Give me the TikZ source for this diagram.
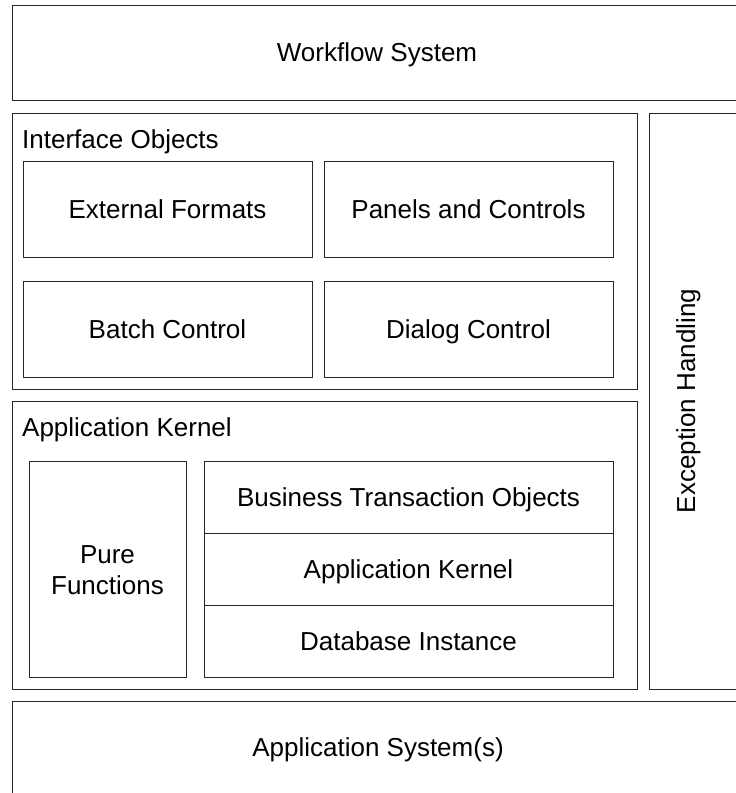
\documentclass[tikz,border=0pt]{standalone}
\usepackage{fontspec}
\setmainfont{Liberation Sans}
\usetikzlibrary{shadows}
\begin{document}
\begin{tikzpicture}[x=1pt,y=-1pt,
  box/.style={draw=black!85, line width=1pt, fill=white, rectangle, anchor=north west, inner sep=0pt, outer sep=0pt,
    drop shadow={shadow xshift=1.2pt, shadow yshift=-1.2pt, fill=black!45, opacity=1}},
  lbl/.style={font=\fontsize{26}{31}\selectfont, text=black, align=center, inner sep=0pt},
  one/.style={lbl, text height=19pt, text depth=1pt},
  ttl/.style={font=\fontsize{26}{31}\selectfont, text=black, anchor=base west, inner sep=0pt}]
\useasboundingbox (0,0) rectangle (736,793);
\clip (0,0) rectangle (736,793);
% outer boxes
\node[box, minimum width=732, minimum height=95] (wf) at (12,5) {};
\node[one] (wft) at (377,52.5) {Workflow System};
\node[box, minimum width=625, minimum height=276] (io) at (12,113) {};
\node[ttl] (iot) at (22,148) {Interface Objects};
\node[box, minimum width=95, minimum height=576] (eh) at (649,113) {};
\node[one, rotate=90] (eht) at (686,401) {Exception Handling};
\node[box, minimum width=625, minimum height=288] (ak) at (12,401) {};
\node[ttl] (akt) at (22,436) {Application Kernel};
\node[box, minimum width=732, minimum height=100] (as) at (12,701) {};
\node[one] (ast) at (378,747) {Application System(s)};
% interface objects
\node[box, minimum width=289, minimum height=96] (ext) at (23,161) {};
\node[one] at (ext.center) {External Formats};
\node[box, minimum width=289, minimum height=96] (pan) at (324,161) {};
\node[one] at (pan.center) {Panels and Controls};
\node[box, minimum width=289, minimum height=96] (bat) at (23,281) {};
\node[one] at (bat.center) {Batch Control};
\node[box, minimum width=289, minimum height=96] (dia) at (324,281) {};
\node[one] at (dia.center) {Dialog Control};
% application kernel
\node[box, minimum width=157, minimum height=216] (pf) at (29,461) {};
\node[lbl] at ([yshift=-1.5pt]pf.center) {Pure\\Functions};
\node[box, minimum width=409, minimum height=72] (bto) at (204,461) {};
\node[one] at (bto.center) {Business Transaction Objects};
\node[box, minimum width=409, minimum height=72] (akk) at (204,533) {};
\node[one] at (akk.center) {Application Kernel};
\node[box, minimum width=409, minimum height=72] (db) at (204,605) {};
\node[one] at (db.center) {Database Instance};
\end{tikzpicture}
\end{document}
